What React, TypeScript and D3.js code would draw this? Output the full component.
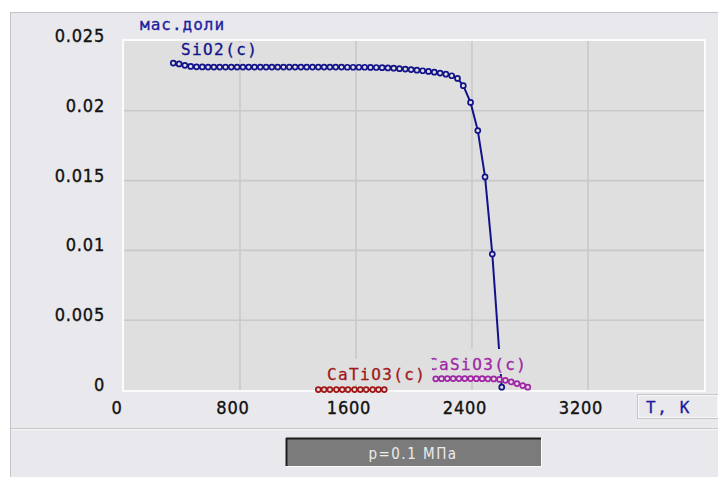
import React from "react";
import * as d3 from "d3";

// SiO2(c)
const tSiO2 = [
  340, 380, 420, 460, 500, 540, 580, 620, 660, 700, 740, 780, 820, 860, 900, 940, 980, 1020,
  1060, 1100, 1140, 1180, 1220, 1260, 1300, 1340, 1380, 1420, 1460, 1500, 1540, 1580, 1620,
  1660, 1700, 1740, 1780, 1820, 1860, 1900, 1940, 1980, 2020, 2060, 2100, 2140, 2180, 2220,
  2260, 2300, 2340, 2390, 2440, 2490, 2540, 2605,
];
const vSiO2 = [
  0.02342, 0.02336, 0.02326, 0.02318, 0.02315, 0.02314, 0.02313, 0.02313, 0.02313, 0.02313,
  0.02313, 0.02313, 0.02313, 0.02313, 0.02313, 0.02313, 0.02313, 0.02313, 0.02313, 0.02313,
  0.02313, 0.02313, 0.02313, 0.02313, 0.02313, 0.02313, 0.02313, 0.02313, 0.02313, 0.02313,
  0.02312, 0.02312, 0.02312, 0.02312, 0.02311, 0.0231, 0.02309, 0.02307, 0.02305, 0.02302,
  0.02299, 0.02295, 0.02291, 0.02287, 0.02282, 0.02277, 0.0227, 0.02262, 0.02251, 0.02232,
  0.0218, 0.0206, 0.01858, 0.01526, 0.00974, 0.0002,
];

// CaTiO3(c)
const tCaTiO3 = [1340, 1380, 1420, 1465, 1505, 1545, 1590, 1630, 1670, 1715, 1755, 1795];
const vCaTiO3 = [
  0.00003, 0.00003, 0.00003, 0.00003, 0.00003, 0.00003, 0.00003, 0.00003, 0.00003, 0.00003,
  0.00003, 0.00003,
];

// CaSiO3(c)
const tCaSiO3 = [
  2150, 2190, 2230, 2270, 2310, 2350, 2390, 2430, 2470, 2510, 2550, 2590, 2630, 2670, 2710,
  2750, 2785,
];
const vCaSiO3 = [
  0.0008, 0.00081, 0.00082, 0.00082, 0.00082, 0.00082, 0.00082, 0.00081, 0.00081, 0.0008,
  0.00079, 0.00076, 0.00069, 0.00058, 0.00046, 0.00032, 0.0002,
];

const xTicks = [0, 800, 1600, 2400, 3200];
const yTicks = [0, 0.005, 0.01, 0.015, 0.02, 0.025];
const yTickLabels = ["0", "0.005", "0.01", "0.015", "0.02", "0.025"];

const W = 718;
const H = 477;
const PLOT = { left: 124, right: 704, top: 41, bottom: 390 };
const PANEL_BG = "#e9e8ec";
const PLOT_BG = "#dfdfdf";
const MONO = "'DejaVu Sans Mono', 'Liberation Mono', monospace";
const NARROW = "'DejaVu Sans Condensed', 'DejaVu Sans', sans-serif";

const series = [
  { name: "SiO2(c)", t: tSiO2, v: vSiO2, color: "#12128a", labelX: 181, labelY: 55, pad: 4 },
  { name: "CaTiO3(c)", t: tCaTiO3, v: vCaTiO3, color: "#a01818", labelX: 327, labelY: 380, pad: 8 },
  { name: "CaSiO3(c)", t: tCaSiO3, v: vCaSiO3, color: "#a026a6", labelX: 428, labelY: 370, pad: 4 },
];
// labels are painted with an opaque box; CaTiO3 last so it hides the edge of CaSiO3
const labelOrder = [0, 2, 1];

export default function App() {
  const x = d3.scaleLinear().domain([0, 4000]).range([PLOT.left, PLOT.right]);
  const y = d3.scaleLinear().domain([0, 0.025]).range([PLOT.bottom, PLOT.top]);
  const line = d3
    .line<[number, number]>()
    .x((d) => d[0])
    .y((d) => d[1]);

  return (
    <svg width={W} height={H} style={{ position: "absolute", left: 0, top: 0 }}>
      <rect width={W} height={H} fill="#fff" />
      {/* outer panel */}
      <rect x={10} y={12} width={W - 10} height={H - 12} fill={PANEL_BG} />
      <line x1={10.5} y1={12} x2={10.5} y2={H} stroke="#c4c4c6" />
      <line x1={10} y1={12.5} x2={W} y2={12.5} stroke="#c4c4c6" />
      <line x1={11} y1={428.5} x2={W} y2={428.5} stroke="#c8c8ca" />
      <line x1={11} y1={429.5} x2={W} y2={429.5} stroke="#f6f6f8" />

      {/* plot area */}
      <rect
        x={PLOT.left}
        y={PLOT.top}
        width={PLOT.right - PLOT.left}
        height={PLOT.bottom - PLOT.top}
        fill={PLOT_BG}
      />
      {xTicks.slice(1).map((t) => (
        <line
          key={"gx" + t}
          x1={x(t)}
          x2={x(t)}
          y1={PLOT.top}
          y2={PLOT.bottom}
          stroke="#c9c9c9"
          strokeWidth={1.6}
        />
      ))}
      {yTicks.slice(1, -1).map((v) => (
        <line
          key={"gy" + v}
          x1={PLOT.left}
          x2={PLOT.right}
          y1={y(v)}
          y2={y(v)}
          stroke="#c9c9c9"
          strokeWidth={1.6}
        />
      ))}
      <rect
        x={PLOT.left - 1}
        y={PLOT.top - 1}
        width={PLOT.right - PLOT.left + 2}
        height={PLOT.bottom - PLOT.top + 2}
        fill="none"
        stroke="#fbfbfb"
        strokeWidth={2}
      />

      {/* axis labels */}
      {yTicks.map((v, i) => (
        <text
          key={"yt" + v}
          x={105}
          y={y(v) + 1}
          textAnchor="end"
          fontFamily={NARROW}
          fontSize={18}
          letterSpacing={0.8}
          fill="#111"
          stroke="#111"
          strokeWidth={0.35}
        >
          {yTickLabels[i]}
        </text>
      ))}
      {xTicks.map((t) => (
        <text
          key={"xt" + t}
          x={x(t) - 7}
          y={414}
          textAnchor="middle"
          fontFamily={NARROW}
          fontSize={18}
          letterSpacing={0.8}
          fill="#111"
          stroke="#111"
          strokeWidth={0.35}
        >
          {t}
        </text>
      ))}
      <text
        x={140}
        y={30}
        fontFamily={MONO}
        fontSize={16}
        letterSpacing={1}
        fill="#20209e"
        stroke="#20209e"
        strokeWidth={0.3}
      >
        мас.доли
      </text>

      {/* T, K box */}
      <rect x={637.5} y={394.5} width={W - 637} height={24} fill={PANEL_BG} stroke="#c6c6c8" />
      <rect x={638.5} y={395.5} width={W - 639} height={22} fill="none" stroke="#f8f8fa" />
      <text
        x={646}
        y={413}
        fontFamily={MONO}
        fontSize={16}
        letterSpacing={1.6}
        fill="#1a1a9c"
        stroke="#1a1a9c"
        strokeWidth={0.3}
      >
        T, K
      </text>

      {/* series */}
      {series.map((s) => {
        const pts: [number, number][] = s.t.map((t, i) => [x(t), y(s.v[i])]);
        return (
          <g key={s.name}>
            <path d={line(pts) || ""} fill="none" stroke={s.color} strokeWidth={2} />
            {pts.map((p, i) => (
              <circle
                key={i}
                cx={p[0]}
                cy={p[1]}
                r={2.5}
                fill={PLOT_BG}
                stroke={s.color}
                strokeWidth={1.7}
              />
            ))}
          </g>
        );
      })}

      {/* series labels */}
      {labelOrder.map((k) => {
        const s = series[k];
        const w = s.name.length * 11 + s.pad;
        const top = Math.max(PLOT.top + 1, s.labelY - 21);
        return (
          <g key={"lab" + s.name}>
            <rect x={s.labelX - 2} y={top} width={w} height={s.labelY + 4 - top} fill={PLOT_BG} />
            <text
              x={s.labelX}
              y={s.labelY}
              fontFamily={MONO}
              fontSize={16}
              letterSpacing={1.4}
              fill={s.color}
              stroke={s.color}
              strokeWidth={0.3}
            >
              {s.name}
            </text>
          </g>
        );
      })}

      {/* pressure box */}
      <rect x={286} y={438} width={255} height={28} fill="#7b7b7b" />
      <line x1={286} y1={438.5} x2={541} y2={438.5} stroke="#1e1e1e" strokeWidth={2} />
      <line x1={286.5} y1={438} x2={286.5} y2={466} stroke="#1e1e1e" strokeWidth={2} />
      <line x1={286} y1={466.5} x2={541} y2={466.5} stroke="#fafafa" />
      <line x1={541.5} y1={438} x2={541.5} y2={467} stroke="#fafafa" />
      <text
        x={413}
        y={459}
        textAnchor="middle"
        fontFamily={NARROW}
        fontSize={15}
        letterSpacing={1.5}
        fill="#ececec"
      >
        p=0.1 МПа
      </text>
    </svg>
  );
}
